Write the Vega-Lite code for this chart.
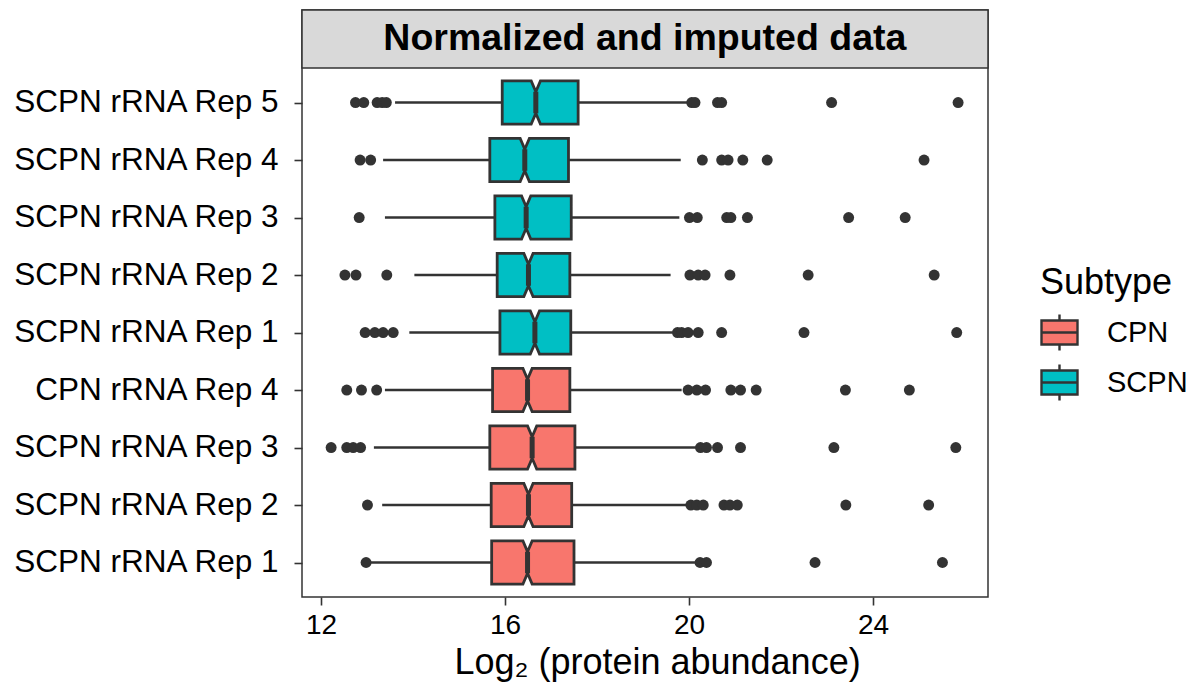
{
  "$schema": "https://vega.github.io/schema/vega-lite/v6.json",
  "width": 686,
  "height": 587,
  "autosize": {"type": "none"},
  "padding": {"left": 302, "top": 10, "right": 205, "bottom": 91},
  "background": "white",
  "config": {
    "font": "Liberation Sans",
    "view": {"stroke": "#333333", "strokeWidth": 1.5},
    "legend": {
      "orient": "none",
      "legendX": 738,
      "legendY": 256,
      "titleFontSize": 36,
      "titleFontWeight": "normal",
      "titleColor": "#000000",
      "titlePadding": 11,
      "labelFontSize": 29,
      "labelColor": "#000000",
      "labelOffset": 28,
      "rowPadding": 3,
      "symbolType": "M-1,-0.67H1V0.67H-1Z M-1,0H1 M0,-0.67V-1 M0,0.67V1",
      "symbolSize": 1296,
      "symbolStrokeColor": "#333333",
      "symbolStrokeWidth": 2.4
    }
  },
  "datasets": {
    "boxes": [
      {"id": "S5", "row": 9, "subtype": "SCPN", "wlo": 13.61, "q1": 15.94, "nlo": 16.57, "med": 16.67, "nhi": 16.77, "q3": 17.59, "whi": 20.02},
      {"id": "S4", "row": 8, "subtype": "SCPN", "wlo": 13.35, "q1": 15.67, "nlo": 16.33, "med": 16.43, "nhi": 16.53, "q3": 17.38, "whi": 19.82},
      {"id": "S3", "row": 7, "subtype": "SCPN", "wlo": 13.39, "q1": 15.78, "nlo": 16.36, "med": 16.46, "nhi": 16.56, "q3": 17.44, "whi": 19.79},
      {"id": "S2", "row": 6, "subtype": "SCPN", "wlo": 14.03, "q1": 15.83, "nlo": 16.41, "med": 16.51, "nhi": 16.61, "q3": 17.41, "whi": 19.6},
      {"id": "S1", "row": 5, "subtype": "SCPN", "wlo": 13.92, "q1": 15.89, "nlo": 16.55, "med": 16.65, "nhi": 16.75, "q3": 17.43, "whi": 19.65},
      {"id": "C4", "row": 4, "subtype": "CPN", "wlo": 13.39, "q1": 15.73, "nlo": 16.39, "med": 16.49, "nhi": 16.59, "q3": 17.41, "whi": 19.84},
      {"id": "C3", "row": 3, "subtype": "CPN", "wlo": 13.15, "q1": 15.67, "nlo": 16.49, "med": 16.59, "nhi": 16.69, "q3": 17.52, "whi": 20.17},
      {"id": "C2", "row": 2, "subtype": "CPN", "wlo": 13.33, "q1": 15.7, "nlo": 16.41, "med": 16.51, "nhi": 16.61, "q3": 17.45, "whi": 19.95},
      {"id": "C1", "row": 1, "subtype": "CPN", "wlo": 13.03, "q1": 15.71, "nlo": 16.39, "med": 16.49, "nhi": 16.59, "q3": 17.5, "whi": 20.13}
    ],
    "outliers": [
      {"row": 9, "value": 12.75}, {"row": 9, "value": 12.93}, {"row": 9, "value": 13.22}, {"row": 9, "value": 13.33}, {"row": 9, "value": 13.42},
      {"row": 9, "value": 20.06}, {"row": 9, "value": 20.13}, {"row": 9, "value": 20.62}, {"row": 9, "value": 20.71}, {"row": 9, "value": 23.1}, {"row": 9, "value": 25.85},
      {"row": 8, "value": 12.85}, {"row": 8, "value": 13.08}, {"row": 8, "value": 20.29}, {"row": 8, "value": 20.71}, {"row": 8, "value": 20.85}, {"row": 8, "value": 21.17}, {"row": 8, "value": 21.7}, {"row": 8, "value": 25.11},
      {"row": 7, "value": 12.83}, {"row": 7, "value": 20.01}, {"row": 7, "value": 20.18}, {"row": 7, "value": 20.82}, {"row": 7, "value": 20.91}, {"row": 7, "value": 21.27}, {"row": 7, "value": 23.47}, {"row": 7, "value": 24.7},
      {"row": 6, "value": 12.52}, {"row": 6, "value": 12.76}, {"row": 6, "value": 13.43}, {"row": 6, "value": 20.02}, {"row": 6, "value": 20.2}, {"row": 6, "value": 20.35}, {"row": 6, "value": 20.89}, {"row": 6, "value": 22.59}, {"row": 6, "value": 25.33},
      {"row": 5, "value": 12.96}, {"row": 5, "value": 13.17}, {"row": 5, "value": 13.35}, {"row": 5, "value": 13.57}, {"row": 5, "value": 19.75}, {"row": 5, "value": 19.84}, {"row": 5, "value": 19.98}, {"row": 5, "value": 20.2}, {"row": 5, "value": 20.71}, {"row": 5, "value": 22.5}, {"row": 5, "value": 25.82},
      {"row": 4, "value": 12.56}, {"row": 4, "value": 12.88}, {"row": 4, "value": 13.21}, {"row": 4, "value": 19.98}, {"row": 4, "value": 20.17}, {"row": 4, "value": 20.36}, {"row": 4, "value": 20.91}, {"row": 4, "value": 21.12}, {"row": 4, "value": 21.46}, {"row": 4, "value": 23.4}, {"row": 4, "value": 24.79},
      {"row": 3, "value": 12.22}, {"row": 3, "value": 12.56}, {"row": 3, "value": 12.7}, {"row": 3, "value": 12.86}, {"row": 3, "value": 20.25}, {"row": 3, "value": 20.38}, {"row": 3, "value": 20.62}, {"row": 3, "value": 21.12}, {"row": 3, "value": 23.15}, {"row": 3, "value": 25.8},
      {"row": 2, "value": 13.01}, {"row": 2, "value": 20.04}, {"row": 2, "value": 20.17}, {"row": 2, "value": 20.31}, {"row": 2, "value": 20.76}, {"row": 2, "value": 20.89}, {"row": 2, "value": 21.05}, {"row": 2, "value": 23.41}, {"row": 2, "value": 25.21},
      {"row": 1, "value": 12.98}, {"row": 1, "value": 20.24}, {"row": 1, "value": 20.38}, {"row": 1, "value": 22.74}, {"row": 1, "value": 25.51}
    ]
  },
  "layer": [
    {
      "data": {"values": [{}]},
      "mark": {"type": "rect", "fill": "#D9D9D9", "stroke": "#333333", "strokeWidth": 1.5},
      "encoding": {
        "x": {"datum": 11.587, "type": "quantitative", "title": "Log₂ (protein abundance)",
          "scale": {"domain": [11.587, 26.5], "nice": false, "zero": false},
          "axis": {
            "values": [12, 14, 16, 18, 20, 22, 24, 26],
            "labelExpr": "datum.value % 4 == 0 ? datum.label : ''",
            "gridColor": "#EBEBEB",
            "gridWidth": {"condition": {"test": "datum.value % 4 == 0", "value": 1.6}, "value": 0.9},
            "tickOpacity": {"condition": {"test": "datum.value % 4 == 0", "value": 1}, "value": 0},
            "tickColor": "#333333", "tickSize": 8, "tickWidth": 1.6,
            "domain": false,
            "labelFontSize": 28, "labelColor": "#000000", "labelPadding": 6,
            "labelOverlap": false, "labelFlush": false,
            "titleFontSize": 36, "titleFontWeight": "normal", "titleColor": "#000000", "titlePadding": 6,
            "titleX": 355
          }
        },
        "x2": {"datum": 26.5},
        "y": {"datum": 9.6, "type": "quantitative", "title": null,
          "scale": {"domain": [0.4, 10.609], "nice": false, "zero": false},
          "axis": {
            "values": [1, 2, 3, 4, 5, 6, 7, 8, 9],
            "labelExpr": "['', 'SCPN rRNA Rep 1', 'SCPN rRNA Rep 2', 'SCPN rRNA Rep 3', 'CPN rRNA Rep 4', 'SCPN rRNA Rep 1', 'SCPN rRNA Rep 2', 'SCPN rRNA Rep 3', 'SCPN rRNA Rep 4', 'SCPN rRNA Rep 5'][datum.value]",
            "gridColor": "#EBEBEB", "gridWidth": 1.6,
            "tickColor": "#333333", "tickSize": 8, "tickWidth": 1.6,
            "domain": false,
            "labelFontSize": 31.5, "labelColor": "#000000", "labelPadding": 16,
            "labelLimit": 500,
            "labelOverlap": false
          }
        },
        "y2": {"datum": 10.609}
      }
    },
    {
      "data": {"name": "boxes"},
      "mark": {"type": "rule", "color": "#333333", "strokeWidth": 2.6},
      "encoding": {
        "x": {"field": "wlo", "type": "quantitative", "title": "Log₂ (protein abundance)"},
        "x2": {"field": "q1"},
        "y": {"field": "row", "type": "quantitative", "title": null}
      }
    },
    {
      "data": {"name": "boxes"},
      "mark": {"type": "rule", "color": "#333333", "strokeWidth": 2.6},
      "encoding": {
        "x": {"field": "q3", "type": "quantitative", "title": "Log₂ (protein abundance)"},
        "x2": {"field": "whi"},
        "y": {"field": "row", "type": "quantitative", "title": null}
      }
    },
    {
      "data": {"name": "boxes"},
      "transform": [
        {"fold": ["q1", "nlo", "med", "nhi", "q3"], "as": ["k", "xv"]},
        {"calculate": "datum.k === 'med' ? 0.1875 : 0.375", "as": "hw"},
        {"calculate": "datum.row + datum.hw", "as": "yt"},
        {"calculate": "datum.row - datum.hw", "as": "yb"}
      ],
      "mark": {"type": "area", "stroke": "#333333", "strokeWidth": 2.8, "opacity": 1, "strokeJoin": "miter"},
      "encoding": {
        "x": {"field": "xv", "type": "quantitative", "title": "Log₂ (protein abundance)"},
        "y": {"field": "yt", "type": "quantitative", "title": null},
        "y2": {"field": "yb"},
        "detail": {"field": "id", "type": "nominal"},
        "color": {"field": "subtype", "type": "nominal", "title": "Subtype",
          "scale": {"domain": ["CPN", "SCPN"], "range": ["#F8766D", "#00BFC4"]}}
      }
    },
    {
      "data": {"name": "boxes"},
      "transform": [
        {"calculate": "datum.row + 0.1875", "as": "mt"},
        {"calculate": "datum.row - 0.1875", "as": "mb"}
      ],
      "mark": {"type": "rule", "color": "#333333", "strokeWidth": 5},
      "encoding": {
        "x": {"field": "med", "type": "quantitative", "title": "Log₂ (protein abundance)"},
        "y": {"field": "mt", "type": "quantitative", "title": null},
        "y2": {"field": "mb"}
      }
    },
    {
      "data": {"name": "outliers"},
      "mark": {"type": "circle", "color": "#333333", "size": 120, "opacity": 1},
      "encoding": {
        "x": {"field": "value", "type": "quantitative", "title": "Log₂ (protein abundance)"},
        "y": {"field": "row", "type": "quantitative", "title": null}
      }
    },
    {
      "data": {"values": [{}]},
      "mark": {"type": "text", "font": "Liberation Sans", "fontWeight": "bold", "fontSize": 37.5, "color": "#000000", "baseline": "middle", "align": "center"},
      "encoding": {
        "x": {"datum": 19.04, "type": "quantitative"},
        "y": {"datum": 10.1, "type": "quantitative"},
        "text": {"value": "Normalized and imputed data"}
      }
    }
  ]
}
